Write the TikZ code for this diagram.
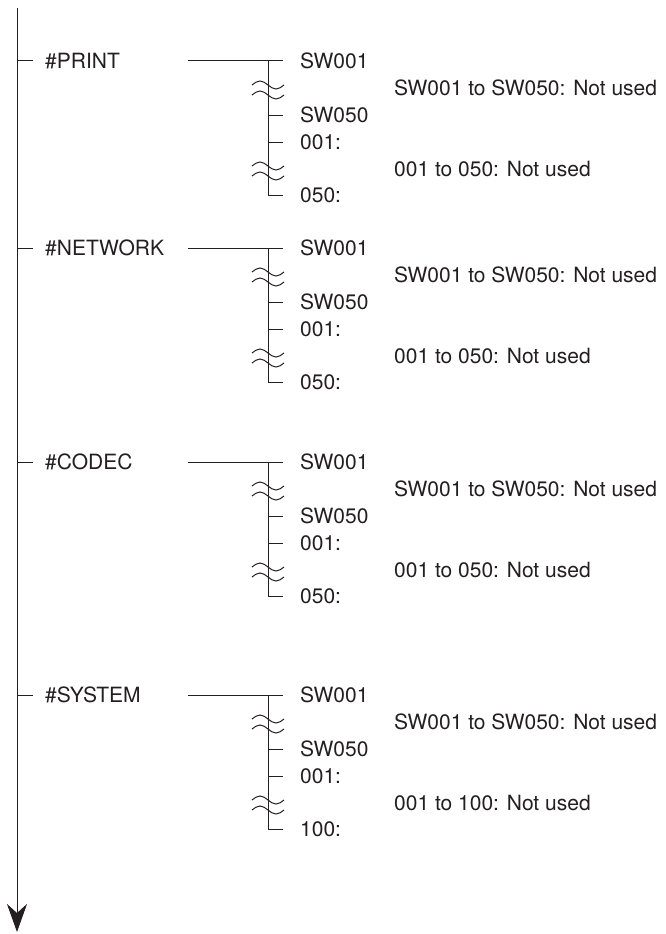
\documentclass[tikz,border=0pt]{standalone}
\usepackage{fontspec}
\setmainfont{TeX Gyre Heros}
\usetikzlibrary{arrows.meta}

\definecolor{ink}{HTML}{231F20}
\tikzset{
  menuline/.style={draw=ink, line width=1pt},
  itemtext/.style={anchor=west, inner sep=0pt, text=ink, font=\fontsize{21}{24}\selectfont},
}
\newcommand{\breakmark}[1]{%
  \draw[menuline] ($(#1)+(-16,-3)$) sin ++(8,-4) cos ++(8,4) sin ++(8,4) cos ++(8,-4);
  \draw[menuline] ($(#1)+(-16,7)$) sin ++(8,-4) cos ++(8,4) sin ++(8,4) cos ++(8,-4);}
\usetikzlibrary{calc}

\begin{document}
\begin{tikzpicture}[x=1pt, y=-1pt]
    \useasboundingbox (0,0) rectangle (665,934);
    \coordinate (top) at (17,8);
    \coordinate (bottom) at (17,932);
    \draw[menuline, -{Stealth[length=28pt, width=20pt, inset=9pt]}] (top) -- (bottom);
    \foreach \i/\y/\name/\last in {1/61/\#PRINT/050, 2/248/\#NETWORK/050, 3/462/\#CODEC/050, 4/695/\#SYSTEM/100} {
        \coordinate (tick\i) at (17,\y);
        \node[itemtext] (group\i) at (45,\y) {\name};
        \coordinate (from\i) at (188,\y);
        \coordinate (fork\i) at (268,\y);
        \coordinate (end\i) at (268,\y+134);
        \node[itemtext] (swa\i) at (300,\y) {SW001};
        \node[itemtext] (swb\i) at (300,\y+54) {SW050};
        \node[itemtext] (numa\i) at (300,\y+81) {001:};
        \node[itemtext] (numb\i) at (300,\y+134) {\last:};
        \node[itemtext] (swnote\i) at (394,\y+27) {SW001 to SW050: Not used};
        \node[itemtext] (numnote\i) at (394,\y+108) {001 to \last: Not used};
        \draw[menuline] (tick\i) -- ++(16,0);
        \draw[menuline] (from\i) -- ([xshift=-17pt]swa\i.west);
        \draw[menuline] (fork\i) -- (end\i) -- ([xshift=-17pt]numb\i.west);
        \draw[menuline] (fork\i |- swb\i) -- ([xshift=-17pt]swb\i.west);
        \draw[menuline] (fork\i |- numa\i) -- ([xshift=-17pt]numa\i.west);
        \breakmark{fork\i |- swnote\i}
        \breakmark{fork\i |- numnote\i}
    }
\end{tikzpicture}
\end{document}
